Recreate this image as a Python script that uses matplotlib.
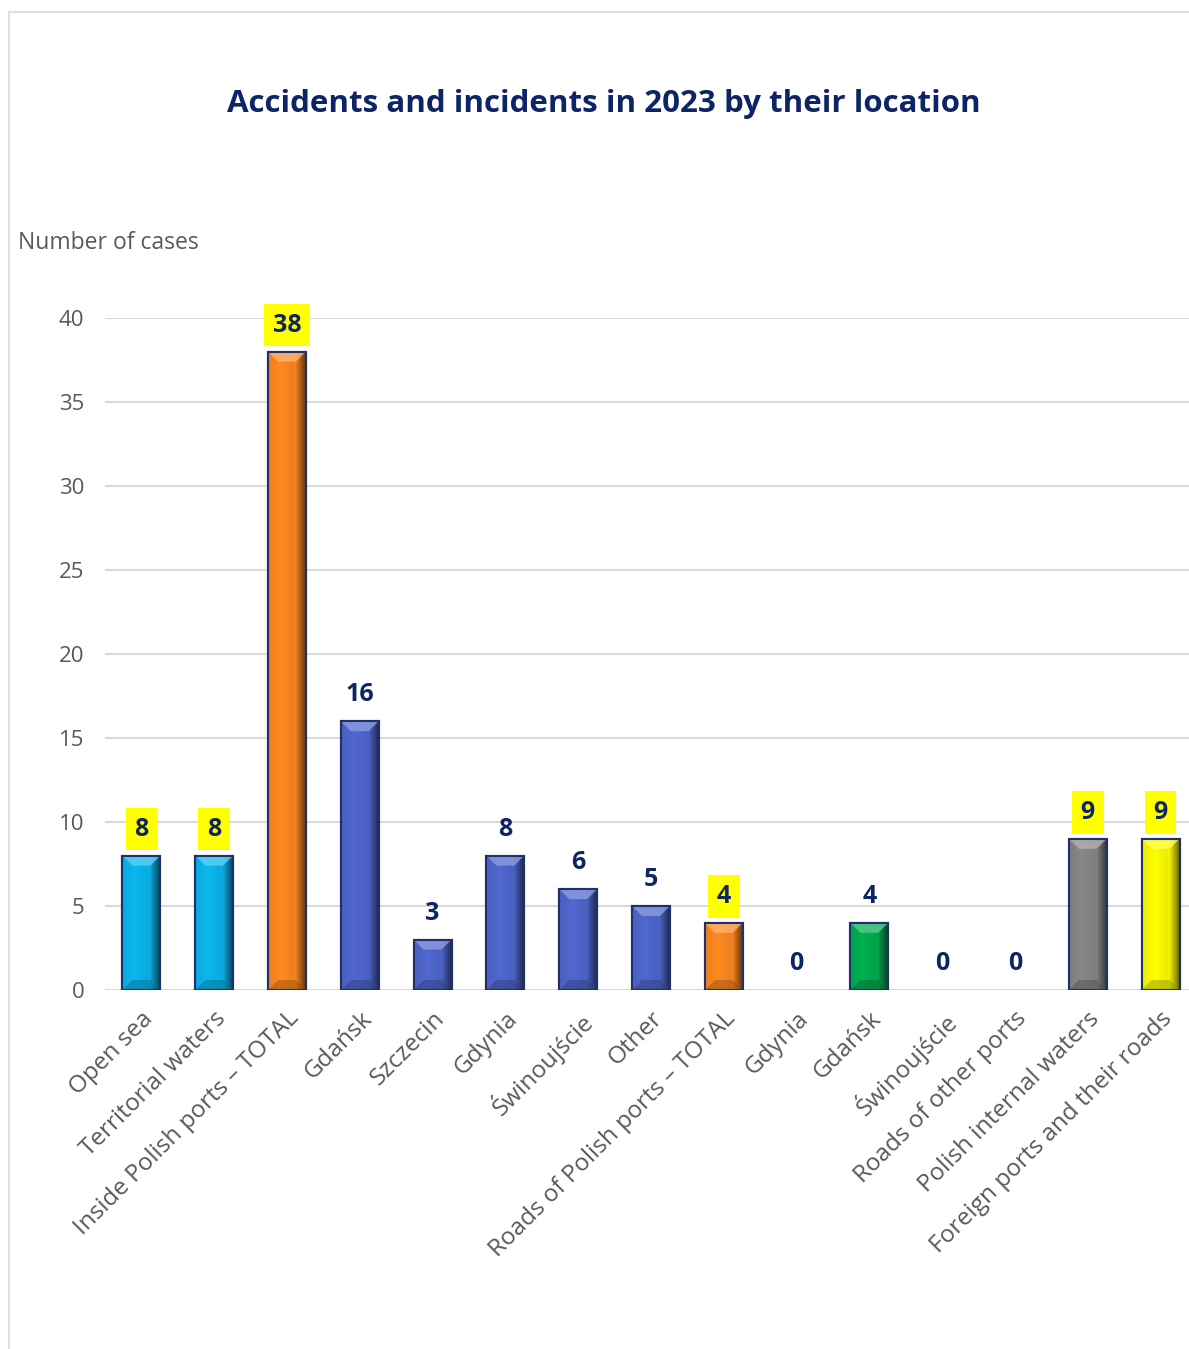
import numpy as np
import matplotlib
matplotlib.use("Agg")
import matplotlib.pyplot as plt
from matplotlib.colors import to_rgb
from matplotlib.patches import Polygon, Rectangle

plt.rcParams['font.family'] = ['Open Sans', 'DejaVu Sans']

# data
categories = ["Open sea", "Territorial waters", "Inside Polish ports \u2013 TOTAL", "Gdańsk",
              "Szczecin", "Gdynia", "Świnoujście", "Other", "Roads of Polish ports \u2013 TOTAL",
              "Gdynia", "Gdańsk", "Świnoujście", "Roads of other ports",
              "Polish internal waters", "Foreign ports and their roads"]
values = [8, 8, 38, 16, 3, 8, 6, 5, 4, 0, 4, 0, 0, 9, 9]
highlight = [True, True, True, False, False, False, False, False, True,
             False, False, False, False, True, True]
colors = ["#0BB8F0", "#0BB8F0", "#FF8A22", "#5068D0", "#5068D0", "#5068D0", "#5068D0",
          "#5068D0", "#FF8A22", "#5068D0", "#00B050", "#5068D0", "#5068D0",
          "#888888", "#FFFF00"]

W, H = 1189, 1349
fig = plt.figure(figsize=(W / 100, H / 100), dpi=100)

# outer chart border
fig.patches.append(Rectangle((9 / W, -0.1), 1.2, 1.1 - 12 / H, transform=fig.transFigure,
                             fill=False, edgecolor="#D9D9D9", lw=1.2))

ax_l, ax_r, ax_t, ax_b = 105, 1197, 318, 990
ax = fig.add_axes([ax_l / W, 1 - ax_b / H, (ax_r - ax_l) / W, (ax_b - ax_t) / H])
x = np.arange(len(values))
ax.set_xlim(-0.5, len(values) - 0.5)
ax.set_ylim(0, 40)

edges = ["#22306A" if v > 0 else "none" for v in values]
bars = ax.bar(x, values, width=0.52, color=colors, edgecolor=edges, linewidth=1.5, zorder=3)

# bevel look
px_x = (len(values)) / (ax_r - ax_l)
px_y = 40 / (ax_b - ax_t)
for bar, c in zip(bars, colors):
    h = bar.get_height()
    if h <= 0:
        continue
    x0 = bar.get_x(); w = bar.get_width()
    rgb = np.array(to_rgb(c))
    t = np.linspace(0, 1, 60)
    shade = np.where(t < 0.7, 1.0 - 0.08 * np.abs(t - 0.35) / 0.35, 1.0 - 0.6 * (t - 0.7) / 0.3)
    img = np.clip(rgb[None, None, :] * shade[None, :, None], 0, 1)
    im = ax.imshow(img, extent=[x0, x0 + w, 0, h], aspect="auto", zorder=3.1,
                   interpolation="bilinear")
    im.set_clip_path(bar)
    dx = 10 * px_x
    dy = 10 * px_y
    light = rgb + (1 - rgb) * 0.35
    dark = rgb * 0.6
    ax.add_patch(Polygon([[x0, h], [x0 + w, h], [x0 + w - dx, h - dy], [x0 + dx, h - dy]],
                         closed=True, facecolor=light, edgecolor="none", alpha=0.8, zorder=3.2))
    ax.add_patch(Polygon([[x0, 0], [x0 + w, 0], [x0 + w - dx, dy], [x0 + dx, dy]],
                         closed=True, facecolor=dark, edgecolor="none", alpha=0.5, zorder=3.2))
    ax.add_patch(Rectangle((x0, 0), w, h, fill=False, edgecolor="#22306A", lw=1.5, zorder=3.3))

# value labels
for xi, v, hl in zip(x, values, highlight):
    kw = {}
    if hl:
        kw["bbox"] = dict(boxstyle="square,pad=0.35", facecolor="#FFFF00", edgecolor="none")
    ax.annotate(str(v), (xi, v), xytext=(0, 19), textcoords="offset points",
                ha="center", va="center", fontsize=18, fontweight="bold",
                color="#0D2466", zorder=5, **kw)

ax.set_yticks(range(0, 41, 5))
ax.yaxis.grid(True, color="#D9D9D9", lw=1.5, zorder=0)
ax.set_axisbelow(True)
for s in ax.spines.values():
    s.set_visible(False)
ax.tick_params(axis="both", length=0, labelcolor="#595959")
ax.tick_params(axis="y", pad=15, labelsize=16)
ax.set_xticks(x)
ax.set_xticklabels(categories, rotation=45, ha="right", rotation_mode="anchor")
ax.tick_params(axis="x", pad=12, labelsize=17.5)

fig.text(18 / W, 1 - 243 / H, "Number of cases", fontsize=16.5, color="#595959",
         ha="left", va="center")
fig.text(604 / W, 1 - 104 / H, "Accidents and incidents in 2023 by their location",
         fontsize=22.5, fontweight="bold", color="#0D2466", ha="center", va="center")

fig.savefig("out.png", dpi=100)
